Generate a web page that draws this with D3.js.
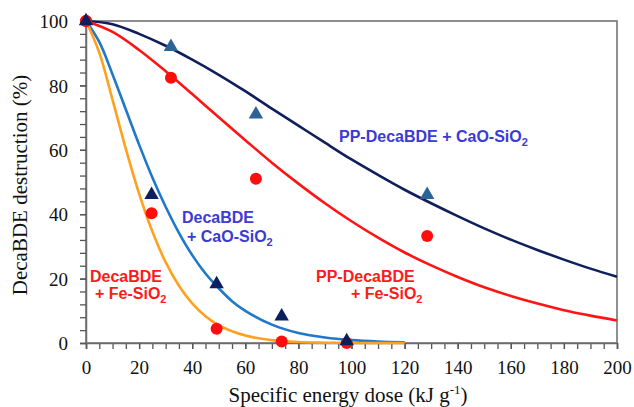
<!DOCTYPE html>
<html>
<head>
<meta charset="utf-8">
<script src="https://cdn.jsdelivr.net/npm/d3@7"></script>
<style>
  body { margin: 0; background: #fff; }
  .lbl { font-family: "Liberation Sans", Arial, sans-serif; font-size: 16px; font-weight: bold; }
  .tick text { font-family: "Liberation Serif", "Times New Roman", serif !important; }
</style>
</head>
<body>
<div id="chart"></div>
<script>
// measured points (kJ/g, % destroyed)
const ppCaoPoints = [[0, 100], [32, 92], [64, 71], [128.5, 46]];
const ppFePoints = [[0, 100], [32, 82.4], [64, 51], [128.5, 33.2]];
const decaCaoPoints = [[0, 100], [24.7, 46], [49.2, 18.3], [73.7, 8.3], [98.2, 0.6]];
const decaFePoints = [[0, 100], [24.7, 40.3], [49.2, 4.4], [73.7, 0.5], [98.2, 0]];

// fitted curves
const ppCaoCurve = [[0, 100], [10, 99], [20, 96], [30, 92.3], [40, 88], [50, 83.3], [60, 78.2], [70, 72.8],
  [80, 67.5], [90, 62.2], [100, 57], [110, 52.2], [120, 47.6], [130, 43.4], [140, 39.4], [150, 35.6],
  [160, 32.1], [170, 28.9], [180, 25.9], [190, 23.1], [200, 20.6]];
const ppFeCurve = [[0, 100], [10, 96.6], [20, 91], [30, 84.4], [40, 77.3], [50, 70.1], [60, 63], [70, 56],
  [80, 49.5], [90, 43.4], [100, 37.8], [110, 32.7], [120, 28.1], [130, 24.1], [140, 20.5], [150, 17.3],
  [160, 14.6], [170, 12.3], [180, 10.2], [190, 8.5], [200, 7]];
const decaCaoCurve = [[0, 100], [5, 93.5], [10, 83.4], [15, 72.5], [20, 61.6], [25, 51.4], [30, 42.3],
  [35, 34.2], [40, 27.3], [45, 21.6], [50, 17], [55, 13], [60, 10], [70, 5.7], [80, 3.1], [90, 1.7],
  [100, 0.9], [110, 0.45], [120, 0.2]];
const decaFeCurve = [[0, 100], [5, 90.2], [10, 75.5], [15, 60.3], [20, 46.4], [25, 34.6], [30, 25.1],
  [35, 17.8], [40, 12.3], [45, 8.3], [50, 5.5], [60, 2.3], [70, 0.9], [80, 0.3], [90, 0.1], [100, 0], [120, 0]];

const xTicks = [0, 20, 40, 60, 80, 100, 120, 140, 160, 180, 200];
const yTicks = [0, 20, 40, 60, 80, 100];

const W = 634, H = 407;
const margin = {top: 21, right: 17, bottom: 64, left: 86};
const w = W - margin.left - margin.right, h = H - margin.top - margin.bottom;
const serif = '"Liberation Serif", "Times New Roman", serif';

const svg = d3.select('#chart').append('svg').attr('width', W).attr('height', H);
const g = svg.append('g').attr('transform', `translate(${margin.left},${margin.top})`);

const x = d3.scaleLinear().domain([0, 200]).range([0, w]);
const y = d3.scaleLinear().domain([0, 100]).range([h, 0]);

// frame
g.append('rect').attr('width', w).attr('height', h)
  .attr('fill', 'none').attr('stroke', '#6b6b6b').attr('stroke-width', 1.5);

// minor ticks
g.append('g').attr('transform', `translate(0,${h})`)
  .call(d3.axisBottom(x).tickValues(d3.range(0, 201, 5)).tickSize(6).tickFormat(''))
  .call(a => a.select('.domain').remove())
  .selectAll('line').attr('stroke', '#555').attr('stroke-width', 1.3);
g.append('g')
  .call(d3.axisLeft(y).tickValues(d3.range(0, 101, 4)).tickSize(6).tickFormat(''))
  .call(a => a.select('.domain').remove())
  .selectAll('line').attr('stroke', '#555').attr('stroke-width', 1.3);

// labelled axes
const xAxis = g.append('g').attr('transform', `translate(0,${h})`)
  .call(d3.axisBottom(x).tickValues(xTicks).tickSize(6).tickPadding(12));
const yAxis = g.append('g')
  .call(d3.axisLeft(y).tickValues(yTicks).tickSize(6).tickPadding(12));
[xAxis, yAxis].forEach(a => {
  a.attr('font-family', serif).attr('font-size', 19);
  a.select('.domain').attr('stroke', '#6b6b6b').attr('stroke-width', 1.5);
  a.selectAll('line').attr('stroke', '#555').attr('stroke-width', 1.3);
  a.selectAll('text').attr('fill', '#111');
});
yAxis.selectAll('text').attr('dy', '0.35em');

// curves
const line = d3.line().x(d => x(d[0])).y(d => y(d[1])).curve(d3.curveCatmullRom);
const curves = [
  {data: ppCaoCurve, color: '#0f1f5c'},
  {data: ppFeCurve, color: '#ff1414'},
  {data: decaCaoCurve, color: '#1f78c8'},
  {data: decaFeCurve, color: '#ffa01e'}
];
curves.forEach(c => {
  g.append('path').datum(c.data).attr('d', line)
    .attr('fill', 'none').attr('stroke', c.color).attr('stroke-width', 2.6);
});

// markers
const tri = d3.symbol().type(d3.symbolTriangle).size(90);
function circles(data, color) {
  g.selectAll(null).data(data).enter().append('circle')
    .attr('cx', d => x(d[0])).attr('cy', d => y(d[1])).attr('r', 6)
    .attr('fill', color);
}
function triangles(data, color) {
  g.selectAll(null).data(data).enter().append('path')
    .attr('d', tri)
    .attr('transform', d => `translate(${x(d[0])},${y(d[1])})`)
    .attr('fill', color);
}
circles(ppFePoints, '#ff0d0d');
circles(decaFePoints, '#ff0d0d');
triangles(ppCaoPoints.slice(1), '#2c6496');
triangles(decaCaoPoints, '#0b1f5e');

// series labels
const blue = '#3b3bd6', red = '#ff1a1a';
function label(px, py, parts, color) {
  const t = svg.append('text').attr('class', 'lbl').attr('x', px).attr('y', py).attr('fill', color);
  parts.forEach(p => {
    const s = t.append('tspan').text(p[0]);
    if (p[1]) s.attr('font-size', '11px').attr('dy', '4');
  });
}
label(339, 142, [['PP-DecaBDE + CaO-SiO'], ['2', true]], blue);
label(182, 223, [['DecaBDE']], blue);
label(187, 242, [['+ CaO-SiO'], ['2', true]], blue);
label(90, 282, [['DecaBDE']], red);
label(95, 299, [['+ Fe-SiO'], ['2', true]], red);
label(316, 282, [['PP-DecaBDE']], red);
label(351, 299, [['+ Fe-SiO'], ['2', true]], red);

// axis titles
const xt = svg.append('text')
  .attr('x', 348).attr('y', 402)
  .attr('text-anchor', 'middle')
  .style('font-family', serif).style('font-size', '21px')
  .attr('fill', '#111');
xt.append('tspan').text('Specific energy dose (kJ g');
xt.append('tspan').text('-1').attr('font-size', '13px').attr('dy', '-8');
xt.append('tspan').text(')').attr('dy', '8');

svg.append('text')
  .attr('transform', `translate(27,${margin.top + h / 2 + 3}) rotate(-90)`)
  .attr('text-anchor', 'middle')
  .style('font-family', serif).style('font-size', '21px')
  .attr('fill', '#111')
  .text('DecaBDE destruction (%)');
</script>
</body>
</html>
